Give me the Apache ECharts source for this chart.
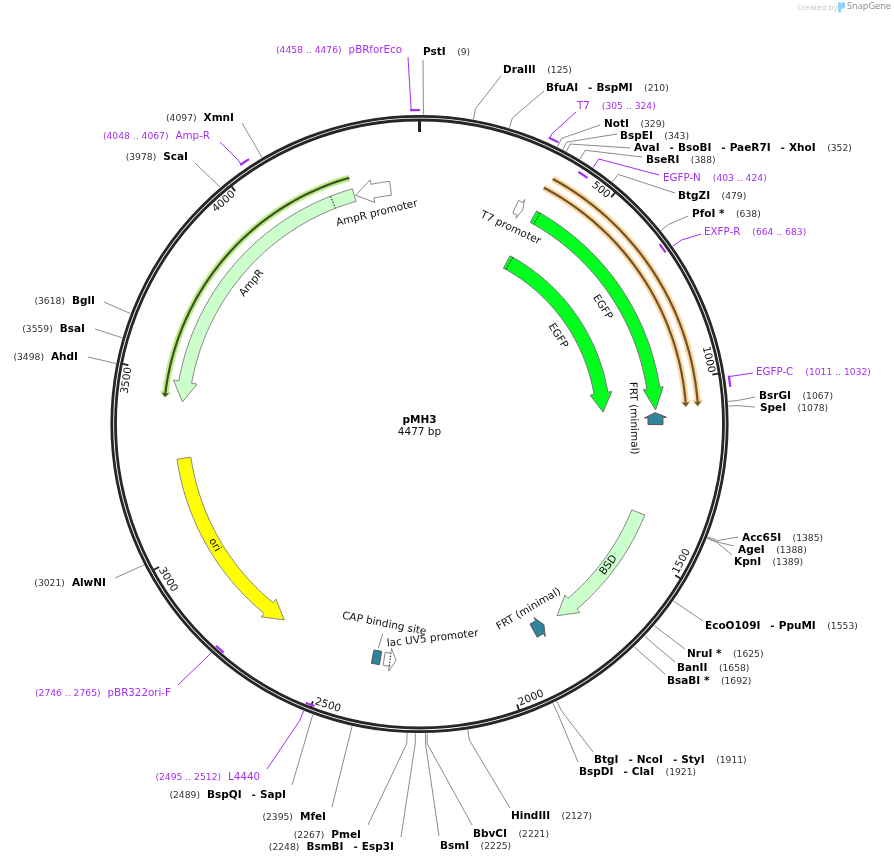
<!DOCTYPE html>
<html>
<head>
<meta charset="utf-8">
<title>pMH3</title>
<style>
  html, body { margin: 0; background: #fff; }
  #main { width: 894px; height: 864px; }
</style>
<script src="https://cdn.jsdelivr.net/npm/echarts@6/dist/echarts.min.js"></script>
</head>
<body>
<div id="main"></div>
<script>
// map data, all positions in bp
var plasmidName = 'pMH3';
var plasmidLength = 4477;
var tickPositions = [0, 500, 1000, 1500, 2000, 2500, 3000, 3500, 4000];

var siteNames = [
  'PstI', 'DraIII', 'BfuAI,BspMI', 'NotI', 'BspEI', 'AvaI,BsoBI,PaeR7I,XhoI', 'BseRI', 'BtgZI', 'PfoI *',
  'BsrGI', 'SpeI', 'Acc65I', 'AgeI', 'KpnI', 'EcoO109I,PpuMI', 'NruI *', 'BanII', 'BsaBI *',
  'BtgI,NcoI,StyI', 'BspDI,ClaI', 'HindIII', 'BbvCI', 'BsmI', 'BsmBI,Esp3I', 'PmeI', 'MfeI',
  'BspQI,SapI', 'AlwNI', 'AhdI', 'BsaI', 'BglI', 'ScaI', 'XmnI'
];
var sitePositions = [
  9, 125, 210, 329, 343, 352, 388, 479, 638,
  1067, 1078, 1385, 1388, 1389, 1553, 1625, 1658, 1692,
  1911, 1921, 2127, 2221, 2225, 2248, 2267, 2395,
  2489, 3021, 3498, 3559, 3618, 3978, 4097
];

var primerNames = ['T7', 'EGFP-N', 'EXFP-R', 'EGFP-C', 'L4440', 'pBR322ori-F', 'Amp-R', 'pBRforEco'];
var primerStarts = [305, 403, 664, 1011, 2495, 2746, 4048, 4458];
var primerEnds = [324, 424, 683, 1032, 2512, 2765, 4067, 4476];

var featureNames = ['EGFP', 'EGFP', 'BSD', 'ori', 'AmpR', 'AmpR promoter', 'T7 promoter', 'lac UV5 promoter', 'FRT (minimal)', 'FRT (minimal)'];
var featureTails = [358, 352, 1393, 3255, 4279, 4390, 297, 2345, 1121, 1879];
var featureTips = [1077, 1073, 1795, 2669, 3424, 4283, 320, 2309, 1085, 1843];

var alignmentTails = [355, 345, 4279];
var alignmentTips = [1073, 1073, 3433];

var capSiteName = 'CAP binding site';
var capSiteStart = 2356;
var capSiteEnd = 2380;

// layout, kept apart from the values above: [labelX, labelY, align, leaderX, leaderY, elbowRadius]
var siteLayout = [
  [423, 52, 'l', 423, 60, 311], [503, 70, 'l', 501, 76, 320], [546, 88, 'l', 544, 91, 320],
  [604, 124, 'l', 600, 125, 319], [620, 136, 'l', 617, 134, 318], [634, 148, 'l', 630, 148, 318],
  [646, 160, 'l', 642, 157, 320], [678, 196, 'l', 675, 193, 319], [692, 214, 'l', 688, 216, 319],
  [759, 396, 'l', 755, 397, 318], [760, 408, 'l', 755, 407, 318],
  [742, 538, 'l', 738, 537, 320], [738, 550, 'l', 734, 546, 320], [734, 562, 'l', 732, 555, 320],
  [705, 626, 'l', 703, 621, 311], [687, 654, 'l', 685, 649, 311], [677, 668, 'l', 675, 662, 311], [667, 681, 'l', 665, 674, 311],
  [594, 760, 'l', 593, 752, 320], [579, 772, 'l', 578, 762, 320],
  [511, 816, 'l', 510, 808, 320], [473, 834, 'l', 472, 825, 320], [440, 846, 'l', 439, 836, 320],
  [394, 847, 'r', 401, 837, 320], [361, 835, 'r', 368, 825, 320], [326, 817, 'r', 332, 807, 311],
  [286, 795, 'r', 292, 785, 311], [106, 583, 'r', 115, 578, 311], [78, 357, 'r', 88, 357, 311],
  [85, 329, 'r', 95, 329, 311], [95, 301, 'r', 104, 302, 311], [188, 157, 'r', 195, 163, 311], [234, 118, 'r', 242, 123, 311]
];
// [labelX, labelY, align, leaderX, leaderY, elbowRadius, tickRadius, leaderAtEnd]
var primerLayout = [
  [577, 106, 'l', 576, 112, 319, 314, 0], [663, 178, 'l', 659, 175, 320, 298, 1], [704, 232, 'l', 701, 234, 320, 300, 1],
  [756, 372, 'l', 753, 373, 314, 313, 0], [260, 777, 'r', 267, 769, 320, 301, 1], [171, 693, 'r', 178, 685, 313, 301, 1],
  [210, 136, 'r', 220, 142, 320, 315, 0], [402, 50, 'r', 408, 57, 315, 314, 0]
];
// [radius, shaftHalf, wingHalf, headLength(bp), fill, stroke]
var featureShape = [
  [236.5, 6.5, 10, 66, '#00FF1E', '#777'], [184, 7, 11, 73, '#00FF1E', '#777'],
  [236, 7, 11.5, 59, '#CCFFCC', '#888'], [238, 7, 11.5, 59, '#FFFF00', '#888'],
  [238, 6.5, 12, 60, '#CCFFCC', '#888'], [237.5, 7, 11.5, 52, '#fff', '#888'],
  [237.5, 7, 10.5, 8, '#fff', '#888'], [237.5, 6.5, 11.5, 18, '#fff', '#888'],
  [236, 7.5, 11, 15, '#31849B', '#555'], [236, 7.5, 11, 15, '#31849B', '#555']
];
// [radius, bp, extra turn in degrees] for the names written along the arcs
var featureLabelAt = [[164, 715, 0], [217, 714, 0], [236, 1576, 0], [238, 2978, 0], [219, 3855, 0], [215, 4335, -2.5], [216, 310, 0], [215, 2195, -3], [214, 1100, 0], [215, 1859, 0]];
var featureDash = [370, 364, null, null, 4212, null, null, 2327, null, null];
var alignmentShape = [[279, '#FFD79B', '#6A5535'], [267, '#FFD79B', '#6A5535'], [256, '#BDEE85', '#3E4F2A']];

var FONT = '"DejaVu Sans", Verdana, sans-serif';
var PURPLE = '#A52EF2';
var GREY = '#8c8c8c';

function arcPoints(api, r, from, to) {
  var n = Math.max(2, Math.ceil(Math.abs(to - from) / 12));
  var pts = [];
  for (var i = 0; i <= n; i++) pts.push(api.coord([r, from + (to - from) * i / n]));
  return pts;
}

// tangent text, kept upright
function tangentRotation(bp) {
  var deg = bp / plasmidLength * 360;
  if (deg > 90 && deg < 270) deg -= 180;
  return -deg * Math.PI / 180;
}

function tangentText(api, r, bp, text, turn) {
  var p = api.coord([r, bp]);
  return {
    type: 'text', x: p[0], y: p[1], rotation: tangentRotation(bp) - (turn || 0) * Math.PI / 180,
    style: { x: 0, y: 0, text: text, fill: '#111', font: '10.5px ' + FONT, align: 'center', verticalAlign: 'middle' }
  };
}

function line(points, stroke, width, dash, cap) {
  return { type: 'polyline', shape: { points: points }, style: { stroke: stroke, lineWidth: width, fill: null, lineDash: dash || null, lineCap: cap || 'butt' } };
}

function renderRing(params, api) {
  var c = api.coord([0, 0]);
  var kids = [307.7, 304].map(function (r) {
    return { type: 'circle', shape: { cx: c[0], cy: c[1], r: r }, style: { fill: null, stroke: '#262626', lineWidth: 2.8 } };
  });
  tickPositions.forEach(function (bp) {
    kids.push(line([api.coord([303, bp]), api.coord([bp === 0 ? 292 : 297, bp])], '#222', bp === 0 ? 3 : 1.8));
    if (bp > 0) kids.push(tangentText(api, 296, bp - (bp === 500 ? 30 : 37), String(bp)));
  });
  return { type: 'group', children: kids };
}

function richLabel(names, pos, align) {
  var parts = names.split(',').map(function (n, i) {
    return (i ? '{g| }{d|-}{h| }' : '') + '{b|' + n + '}';
  }).join('');
  return align === 'l' ? parts + '{k| }{n|(' + pos + ')}' : '{n|(' + pos + ')}{s| }' + parts;
}

var siteRich = {
  b: { font: 'bold 10.5px ' + FONT, fill: '#000' },
  d: { font: 'bold 10.5px ' + FONT, fill: '#222' },
  n: { font: '9.2px ' + FONT, fill: '#333' },
  g: { width: 10, font: '9px ' + FONT },
  k: { width: 11.5, font: '9px ' + FONT },
  h: { width: 4, font: '9px ' + FONT },
  s: { width: 7, font: '9px ' + FONT }
};
var primerRich = {
  b: { font: '10.3px ' + FONT, fill: PURPLE },
  n: { font: '9.2px ' + FONT, fill: PURPLE },
  k: { width: 12, font: '9px ' + FONT },
  s: { width: 7, font: '9px ' + FONT }
};

function labelText(x, y, align, text, rich) {
  return {
    type: 'text', x: x, y: y + 0.7,
    style: { x: 0, y: 0, text: text, rich: rich, align: align === 'l' ? 'left' : 'right', verticalAlign: 'middle' }
  };
}

function renderSite(params, api) {
  var i = params.dataIndex, bp = sitePositions[i], l = siteLayout[i];
  return {
    type: 'group',
    children: [
      line([api.coord([309.5, bp]), api.coord([l[5], bp]), [l[3], l[4]]], GREY, 1),
      labelText(l[0], l[1], l[2], richLabel(siteNames[i], bp, l[2]), siteRich)
    ]
  };
}

function renderPrimer(params, api) {
  var i = params.dataIndex, l = primerLayout[i], a = primerStarts[i], b = primerEnds[i];
  var at = l[7] ? b : a;
  var inner = l[6] < 305;
  var from = inner ? 309.5 : l[6];
  var range = a + ' .. ' + b;
  return {
    type: 'group',
    children: [
      line(arcPoints(api, l[6], a, b), PURPLE, 2.2, null, 'square'),
      line([api.coord([from, at]), api.coord([l[5], at]), [l[3], l[4]]], PURPLE, 1),
      labelText(l[0], l[1], l[2], richLabel(primerNames[i], range, l[2]), primerRich)
    ]
  };
}

function renderFeature(params, api) {
  var i = params.dataIndex, s = featureShape[i];
  var tail = featureTails[i], tip = featureTips[i];
  var dir = tip > tail ? 1 : -1;
  var base = tip - dir * s[3];
  var pts = arcPoints(api, s[0] + s[1], tail, base);
  pts.push(api.coord([s[0] + s[2], base]));
  pts.push(api.coord([s[0], tip]));
  pts.push(api.coord([s[0] - s[2], base]));
  pts = pts.concat(arcPoints(api, s[0] - s[1], base, tail));
  var kids = [{ type: 'polygon', shape: { points: pts }, style: { fill: s[4], stroke: s[5], lineWidth: 1, lineJoin: 'miter' } }];
  if (featureDash[i] !== null) {
    kids.push(line([api.coord([s[0] + s[1], featureDash[i]]), api.coord([s[0] - s[1], featureDash[i]])], '#111', 1, [1.5, 1.5]));
  }
  var at = featureLabelAt[i];
  kids.push(tangentText(api, at[0], at[1], featureNames[i], at[2]));
  return { type: 'group', children: kids };
}

function renderAlignment(params, api) {
  var i = params.dataIndex, s = alignmentShape[i];
  var tail = alignmentTails[i], tip = alignmentTips[i];
  var dir = tip > tail ? 1 : -1;
  var haloBase = tip - dir * 12, coreBase = tip - dir * 11;
  function head(half, from, to) {
    return [api.coord([s[0] + half, from]), api.coord([s[0], to]), api.coord([s[0] - half, from])];
  }
  return {
    type: 'group',
    children: [
      line(arcPoints(api, s[0], tail, haloBase), s[1], 6.5),
      { type: 'polygon', shape: { points: head(6, haloBase - dir * 3, tip + dir * 3) }, style: { fill: s[1] } },
      line(arcPoints(api, s[0], tail, coreBase), s[2], 2.2),
      { type: 'polygon', shape: { points: head(3.6, coreBase, tip) }, style: { fill: s[2] } }
    ]
  };
}

function renderCapSite(params, api) {
  var pts = [
    api.coord([244, capSiteStart]), api.coord([244, capSiteEnd]),
    api.coord([230.5, capSiteEnd]), api.coord([230.5, capSiteStart])
  ];
  var mid = (capSiteStart + capSiteEnd) / 2;
  return {
    type: 'group',
    children: [
      { type: 'polygon', shape: { points: pts }, style: { fill: '#31849B', stroke: '#555', lineWidth: 1 } },
      line([api.coord([228, mid]), api.coord([213, mid - 6])], GREY, 1),
      tangentText(api, 203, 2363, capSiteName, 1)
    ]
  };
}

function renderTitle(params, api) {
  var c = api.coord([0, 0]);
  return {
    type: 'group',
    children: [
      { type: 'text', x: c[0], y: c[1] - 4, style: { x: 0, y: 0, text: plasmidName, font: 'bold 10.5px ' + FONT, fill: '#000', align: 'center', verticalAlign: 'middle' } },
      { type: 'text', x: c[0], y: c[1] + 8, style: { x: 0, y: 0, text: plasmidLength + ' bp', font: '10.5px ' + FONT, fill: '#111', align: 'center', verticalAlign: 'middle' } }
    ]
  };
}

function mapSeries(render, items) {
  return {
    type: 'custom', coordinateSystem: 'polar', silent: true, clip: false,
    renderItem: render,
    data: items.map(function (bp) { return [300, bp]; })
  };
}

var myChart = echarts.init(document.getElementById('main'), null, { renderer: 'canvas' });
var option = {
  animation: false,
  backgroundColor: '#fff',
  polar: { center: [419.5, 424], radius: [0, 309] },
  radiusAxis: { type: 'value', min: 0, max: 309, show: false },
  angleAxis: { type: 'value', min: 0, max: plasmidLength, startAngle: 90, show: false },
  graphic: [
    { type: 'text', left: 797, top: 4, style: { text: 'Created by', font: '8px "Open Sans", sans-serif', fill: '#c4c4c4' } },
    { type: 'polygon', shape: { points: [[838, 2], [841, 3], [845, 2], [845, 8], [841, 9], [841, 13], [838, 12]] }, style: { fill: '#8FD3F6' } },
    { type: 'text', left: 847, top: 2, style: { text: 'SnapGene', font: '9.2px "Open Sans", sans-serif', fill: '#8a8a8a' } }
  ],
  series: [
    mapSeries(renderRing, [0]),
    mapSeries(renderAlignment, alignmentTips),
    mapSeries(renderFeature, featureTips),
    mapSeries(renderCapSite, [capSiteStart]),
    mapSeries(renderSite, sitePositions),
    mapSeries(renderPrimer, primerStarts),
    mapSeries(renderTitle, [0])
  ]
};
myChart.setOption(option);
</script>
</body>
</html>
